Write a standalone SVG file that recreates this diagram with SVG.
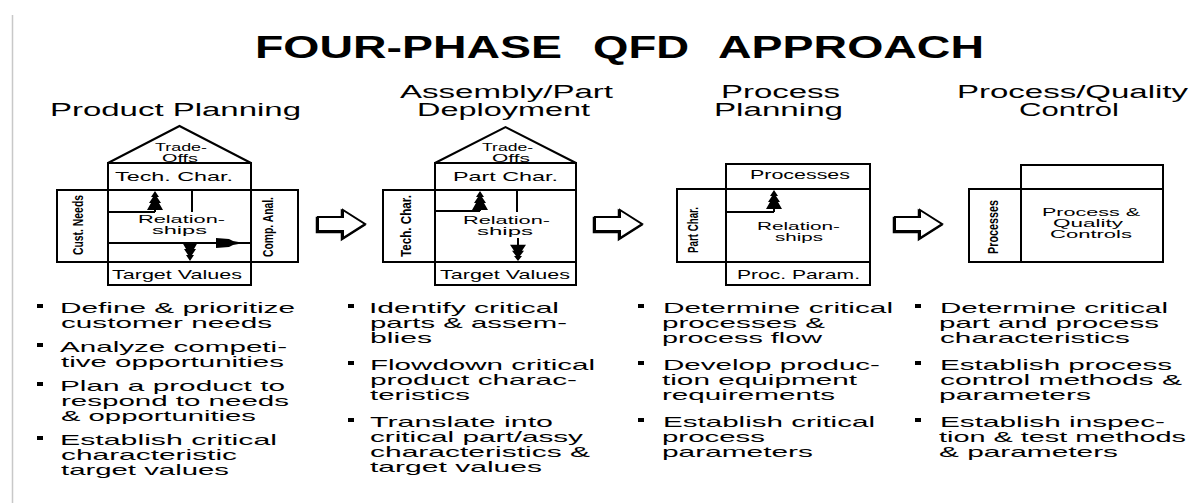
<svg xmlns="http://www.w3.org/2000/svg" width="1204" height="503" viewBox="0 0 1204 503">
<style>
text{font-family:"Liberation Sans",Arial,sans-serif;fill:#000}
.t{font-size:32px;font-weight:bold}
.h{font-size:18px}
.b{font-size:14.5px}
.l{font-size:13px}
.m{font-size:11px}
.r{font-size:14px;font-weight:bold}
.ln{fill:none;stroke:#000;stroke-width:2}
.ar{fill:#000;stroke:none}
.blk{fill:#fff;stroke:#000;stroke-width:2;stroke-linejoin:miter}
.sh{fill:none;stroke:#000;stroke-width:2.5}
</style>
<defs>
<path id="up" d="M0,0 L-4,6 L-2,6 L-6,12 L-4,12 L-8,19 L8,19 L4,12 L6,12 L2,6 L4,6 Z"/>
<path id="blockArrow" d="M0,7 H25 V0 L47,14 L25,28 V21 H0 Z"/>
</defs>
<rect width="1204" height="503" fill="#fff"/>
<line x1="12.5" y1="15" x2="12.5" y2="503" stroke="#c8c8c8" stroke-width="1.5"/>

<g id="title">
<text class="t" x="255" y="58" textLength="307" lengthAdjust="spacingAndGlyphs">FOUR-PHASE</text>
<text class="t" x="593" y="58" textLength="96" lengthAdjust="spacingAndGlyphs">QFD</text>
<text class="t" x="718" y="58" textLength="266" lengthAdjust="spacingAndGlyphs">APPROACH</text>
</g>

<g id="phase1">
<text class="h" x="50" y="116" textLength="251" lengthAdjust="spacingAndGlyphs">Product Planning</text>
<polyline class="ln" points="108,163 179.5,126 251,163"/>
<rect class="ln" x="108" y="163" width="143" height="122"/>
<rect class="ln" x="57" y="190" width="241" height="72"/>
<line class="ln" x1="108" y1="212" x2="155" y2="212"/>
<line class="ln" x1="155" y1="212" x2="155" y2="200"/>
<line class="ln" x1="192" y1="190" x2="192" y2="212"/>
<line class="ln" x1="108" y1="243" x2="251" y2="243"/>
<use href="#up" class="ar" transform="translate(155,191)"/>
<use href="#up" class="ar" transform="translate(190,261) scale(1,-1)"/>
<polygon class="ar" points="216,238 229,239 233,241 244,243 233,245 229,247 216,248"/>
<text class="m" x="155" y="151" textLength="52" lengthAdjust="spacingAndGlyphs">Trade-</text>
<text class="m" x="162" y="162" textLength="36" lengthAdjust="spacingAndGlyphs">Offs</text>
<text class="l" x="115" y="181" textLength="118" lengthAdjust="spacingAndGlyphs">Tech. Char.</text>
<text class="m" x="138" y="223" textLength="87" lengthAdjust="spacingAndGlyphs">Relation-</text>
<text class="m" x="152" y="234" textLength="55" lengthAdjust="spacingAndGlyphs">ships</text>
<text class="l" x="112" y="279" textLength="130" lengthAdjust="spacingAndGlyphs">Target Values</text>
<text class="r" transform="translate(82.5,225) rotate(-90)" x="-30" y="0" textLength="60" lengthAdjust="spacingAndGlyphs">Cust. Needs</text>
<text class="r" transform="translate(272.5,227) rotate(-90)" x="-30" y="0" textLength="60" lengthAdjust="spacingAndGlyphs">Comp. Anal.</text>
<rect x="37" y="304" width="6" height="4" fill="#000"/>
<rect x="37" y="343" width="6" height="4" fill="#000"/>
<rect x="37" y="382" width="6" height="4" fill="#000"/>
<rect x="37" y="436" width="6" height="4" fill="#000"/>
<text class="b" x="60" y="313" textLength="235" lengthAdjust="spacingAndGlyphs">Define &amp; prioritize</text>
<text class="b" x="61" y="328" textLength="211" lengthAdjust="spacingAndGlyphs">customer needs</text>
<text class="b" x="60" y="352" textLength="227" lengthAdjust="spacingAndGlyphs">Analyze competi-</text>
<text class="b" x="61" y="367" textLength="223" lengthAdjust="spacingAndGlyphs">tive opportunities</text>
<text class="b" x="60" y="391" textLength="225" lengthAdjust="spacingAndGlyphs">Plan a product to</text>
<text class="b" x="61" y="406" textLength="228" lengthAdjust="spacingAndGlyphs">respond to needs</text>
<text class="b" x="61" y="421" textLength="195" lengthAdjust="spacingAndGlyphs">&amp; opportunities</text>
<text class="b" x="60" y="445" textLength="217" lengthAdjust="spacingAndGlyphs">Establish critical</text>
<text class="b" x="61" y="460" textLength="176" lengthAdjust="spacingAndGlyphs">characteristic</text>
<text class="b" x="61" y="475" textLength="168" lengthAdjust="spacingAndGlyphs">target values</text>
</g>

<g id="phase2">
<text class="h" x="400" y="98" textLength="213" lengthAdjust="spacingAndGlyphs">Assembly/Part</text>
<text class="h" x="417" y="116" textLength="173" lengthAdjust="spacingAndGlyphs">Deployment</text>
<polyline class="ln" points="435,163 505.5,127 576,163"/>
<rect class="ln" x="435" y="163" width="141" height="122"/>
<rect class="ln" x="383" y="190" width="193" height="72"/>
<line class="ln" x1="435" y1="211" x2="480" y2="211"/>
<line class="ln" x1="480" y1="211" x2="480" y2="200"/>
<line class="ln" x1="517" y1="190" x2="517" y2="212"/>
<line class="ln" x1="518" y1="238" x2="518" y2="248"/>
<use href="#up" class="ar" transform="translate(480,191)"/>
<use href="#up" class="ar" transform="translate(518,261) scale(1,-0.85)"/>
<text class="m" x="482" y="151" textLength="51" lengthAdjust="spacingAndGlyphs">Trade-</text>
<text class="m" x="492" y="162" textLength="38" lengthAdjust="spacingAndGlyphs">Offs</text>
<text class="l" x="453" y="181" textLength="105" lengthAdjust="spacingAndGlyphs">Part Char.</text>
<text class="m" x="463" y="224" textLength="87" lengthAdjust="spacingAndGlyphs">Relation-</text>
<text class="m" x="477" y="235" textLength="56" lengthAdjust="spacingAndGlyphs">ships</text>
<text class="l" x="440" y="279" textLength="130" lengthAdjust="spacingAndGlyphs">Target Values</text>
<text class="r" transform="translate(410.5,226) rotate(-90)" x="-31" y="0" textLength="62" lengthAdjust="spacingAndGlyphs">Tech. Char.</text>
<rect x="348" y="304" width="6" height="4" fill="#000"/>
<rect x="348" y="361" width="6" height="4" fill="#000"/>
<rect x="348" y="418" width="6" height="4" fill="#000"/>
<text class="b" x="369" y="313" textLength="190" lengthAdjust="spacingAndGlyphs">Identify critical</text>
<text class="b" x="370" y="328" textLength="197" lengthAdjust="spacingAndGlyphs">parts &amp; assem-</text>
<text class="b" x="370" y="343" textLength="62" lengthAdjust="spacingAndGlyphs">blies</text>
<text class="b" x="370" y="370" textLength="225" lengthAdjust="spacingAndGlyphs">Flowdown critical</text>
<text class="b" x="370" y="385" textLength="207" lengthAdjust="spacingAndGlyphs">product charac-</text>
<text class="b" x="370" y="400" textLength="100" lengthAdjust="spacingAndGlyphs">teristics</text>
<text class="b" x="370" y="427" textLength="183" lengthAdjust="spacingAndGlyphs">Translate into</text>
<text class="b" x="370" y="442" textLength="213" lengthAdjust="spacingAndGlyphs">critical part/assy</text>
<text class="b" x="370" y="457" textLength="220" lengthAdjust="spacingAndGlyphs">characteristics &amp;</text>
<text class="b" x="370" y="472" textLength="172" lengthAdjust="spacingAndGlyphs">target values</text>
</g>

<g id="phase3">
<text class="h" x="721" y="98" textLength="119" lengthAdjust="spacingAndGlyphs">Process</text>
<text class="h" x="714" y="116" textLength="129" lengthAdjust="spacingAndGlyphs">Planning</text>
<rect class="ln" x="726" y="164" width="144" height="121"/>
<rect class="ln" x="677" y="189" width="193" height="73"/>
<line class="ln" x1="726" y1="212" x2="774" y2="212"/>
<line class="ln" x1="774" y1="212" x2="774" y2="200"/>
<use href="#up" class="ar" transform="translate(774,190)"/>
<text class="l" x="750" y="179" textLength="100" lengthAdjust="spacingAndGlyphs">Processes</text>
<text class="m" x="757" y="230" textLength="83" lengthAdjust="spacingAndGlyphs">Relation-</text>
<text class="m" x="775" y="241" textLength="48" lengthAdjust="spacingAndGlyphs">ships</text>
<text class="l" x="737" y="279" textLength="123" lengthAdjust="spacingAndGlyphs">Proc. Param.</text>
<text class="r" transform="translate(697.5,230) rotate(-90)" x="-23" y="0" textLength="46" lengthAdjust="spacingAndGlyphs">Part Char.</text>
<rect x="638" y="304" width="6" height="4" fill="#000"/>
<rect x="638" y="361" width="6" height="4" fill="#000"/>
<rect x="638" y="418" width="6" height="4" fill="#000"/>
<text class="b" x="663" y="313" textLength="230" lengthAdjust="spacingAndGlyphs">Determine critical</text>
<text class="b" x="662" y="328" textLength="163" lengthAdjust="spacingAndGlyphs">processes &amp;</text>
<text class="b" x="662" y="343" textLength="160" lengthAdjust="spacingAndGlyphs">process flow</text>
<text class="b" x="663" y="370" textLength="217" lengthAdjust="spacingAndGlyphs">Develop produc-</text>
<text class="b" x="662" y="385" textLength="195" lengthAdjust="spacingAndGlyphs">tion equipment</text>
<text class="b" x="662" y="400" textLength="173" lengthAdjust="spacingAndGlyphs">requirements</text>
<text class="b" x="663" y="427" textLength="212" lengthAdjust="spacingAndGlyphs">Establish critical</text>
<text class="b" x="662" y="442" textLength="103" lengthAdjust="spacingAndGlyphs">process</text>
<text class="b" x="662" y="457" textLength="151" lengthAdjust="spacingAndGlyphs">parameters</text>
</g>

<g id="phase4">
<text class="h" x="957" y="98" textLength="231" lengthAdjust="spacingAndGlyphs">Process/Quality</text>
<text class="h" x="1019" y="116" textLength="100" lengthAdjust="spacingAndGlyphs">Control</text>
<rect class="ln" x="1021" y="165" width="142" height="97"/>
<rect class="ln" x="969" y="189" width="194" height="73"/>
<text class="m" x="1042" y="216" textLength="98" lengthAdjust="spacingAndGlyphs">Process &amp;</text>
<text class="m" x="1053" y="227" textLength="70" lengthAdjust="spacingAndGlyphs">Quality</text>
<text class="m" x="1050" y="238" textLength="82" lengthAdjust="spacingAndGlyphs">Controls</text>
<text class="r" transform="translate(997.5,227) rotate(-90)" x="-27" y="0" textLength="54" lengthAdjust="spacingAndGlyphs">Processes</text>
<rect x="915" y="304" width="6" height="4" fill="#000"/>
<rect x="915" y="361" width="6" height="4" fill="#000"/>
<rect x="915" y="418" width="6" height="4" fill="#000"/>
<text class="b" x="940" y="313" textLength="228" lengthAdjust="spacingAndGlyphs">Determine critical</text>
<text class="b" x="939" y="328" textLength="220" lengthAdjust="spacingAndGlyphs">part and process</text>
<text class="b" x="940" y="343" textLength="190" lengthAdjust="spacingAndGlyphs">characteristics</text>
<text class="b" x="940" y="370" textLength="232" lengthAdjust="spacingAndGlyphs">Establish process</text>
<text class="b" x="940" y="385" textLength="242" lengthAdjust="spacingAndGlyphs">control methods &amp;</text>
<text class="b" x="939" y="400" textLength="152" lengthAdjust="spacingAndGlyphs">parameters</text>
<text class="b" x="940" y="427" textLength="225" lengthAdjust="spacingAndGlyphs">Establish inspec-</text>
<text class="b" x="939" y="442" textLength="247" lengthAdjust="spacingAndGlyphs">tion &amp; test methods</text>
<text class="b" x="939" y="457" textLength="179" lengthAdjust="spacingAndGlyphs">&amp; parameters</text>
</g>

<g id="connectors">
<use href="#blockArrow" class="sh" transform="translate(317,211)"/>
<use href="#blockArrow" class="blk" transform="translate(318,210)"/>
<use href="#blockArrow" class="sh" transform="translate(594,211)"/>
<use href="#blockArrow" class="blk" transform="translate(595,210)"/>
<use href="#blockArrow" class="sh" transform="translate(894,211)"/>
<use href="#blockArrow" class="blk" transform="translate(895,210)"/>
</g>
</svg>
